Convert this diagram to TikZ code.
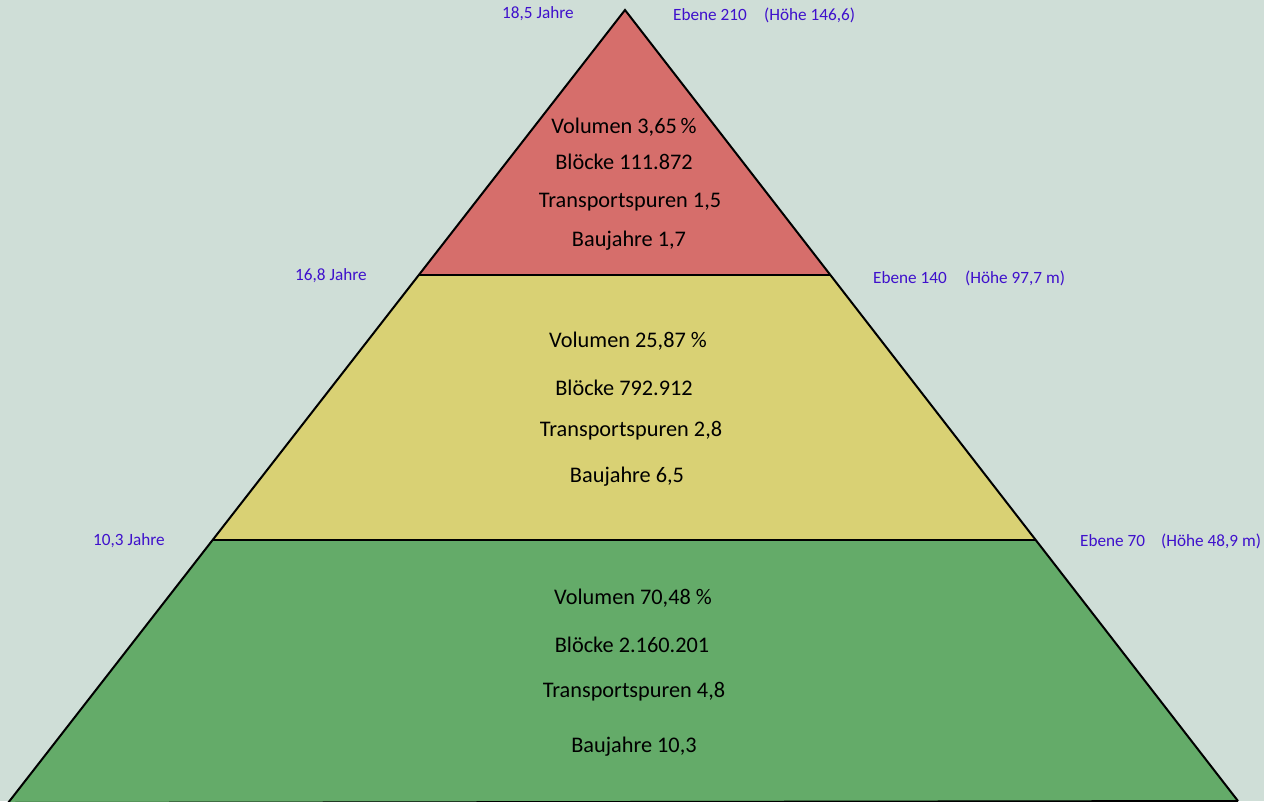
\documentclass[tikz,border=0pt]{standalone}
\usepackage{fontspec}
\setmainfont{Carlito}
\definecolor{bgc}{HTML}{CFDED7}
\definecolor{redc}{HTML}{D66E6B}
\definecolor{yelc}{HTML}{D9D174}
\definecolor{grnc}{HTML}{64AB69}
\definecolor{bluec}{HTML}{3F10CC}
\begin{document}
\begin{tikzpicture}[x=1pt,y=-1pt,
  tier/.style={draw=black,line width=2pt,line join=miter},
  info/.style={font=\fontsize{22.3}{26}\selectfont,text=black,inner sep=0pt},
  lbl/.style={font=\fontsize{17.2}{20}\selectfont,text=bluec,inner sep=0pt,anchor=west}]
\fill[bgc] (0,0) rectangle (1264,801);
\useasboundingbox (0,0) rectangle (1264,801);
\coordinate (apex) at (625,10);
\coordinate (l1) at (418,275);
\coordinate (r1) at (830,275);
\coordinate (l2) at (212,540);
\coordinate (r2) at (1035,540);
\coordinate (l3) at (8,803);
\coordinate (r3) at (1238,801);
\fill[grnc] (l2) -- (r2) -- (r3) -- (l3) -- cycle;
\fill[yelc] (l1) -- (r1) -- (r2) -- (l2) -- cycle;
\fill[redc] (apex) -- (r1) -- (l1) -- cycle;
\draw[tier] (l1) -- (r1);
\draw[tier] (l2) -- (r2);
\draw[tier] (l3) -- (apex) -- (r3);
\draw[tier] (l3) -- (r3);
% top tier
\node[info] (v1) at (624,127) {Volumen 3,65\,\%};
\node[info] (b1) at (624,162) {Blöcke 111.872};
\node[info] (t1) at (630,202) {Transportspuren 1,5};
\node[info] (j1) at (629,241) {Baujahre 1,7};
% middle tier
\node[info] (v2) at (628,341) {Volumen 25,87 \%};
\node[info] (b2) at (624,388) {Blöcke 792.912};
\node[info] (t2) at (631,431) {Transportspuren 2,8};
\node[info] (j2) at (627,477) {Baujahre 6,5};
% bottom tier
\node[info] (v3) at (633,598) {Volumen 70,48 \%};
\node[info] (b3) at (632,645) {Blöcke 2.160.201};
\node[info] (t3) at (634,692) {Transportspuren 4,8};
\node[info] (j3) at (634,747) {Baujahre 10,3};
% labels
\node[lbl] (y1) at (502,14) {18,5 Jahre};
\node[lbl] (e1) at (673,15) {Ebene 210};
\node[lbl] (h1) at (764,15) {(Höhe 146,6)};
\node[lbl] (y2) at (295,276) {16,8 Jahre};
\node[lbl] (e2) at (873,278) {Ebene 140};
\node[lbl] (h2) at (965,278) {(Höhe 97,7 m)};
\node[lbl] (y3) at (93,541) {10,3 Jahre};
\node[lbl] (e3) at (1080,541) {Ebene 70};
\node[lbl] (h3) at (1161,541) {(Höhe 48,9 m)};
\end{tikzpicture}
\end{document}
